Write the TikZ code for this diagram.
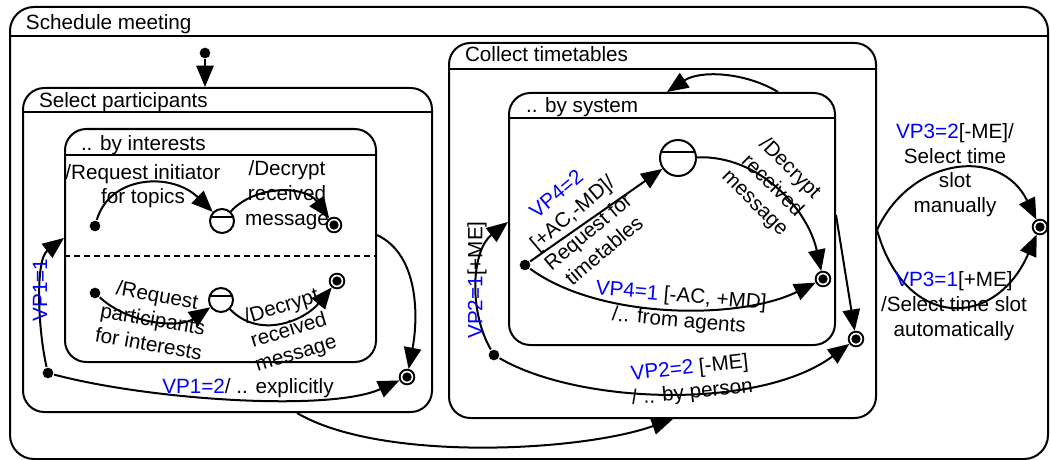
\documentclass[tikz,border=0pt]{standalone}
\usepackage{fontspec}
\setmainfont{Liberation Sans}
\usetikzlibrary{arrows.meta,fit}
\begin{document}
\begin{tikzpicture}[x=0.75pt,y=-0.75pt,
  font=\fontsize{15.5pt}{18.5pt}\selectfont,
  line width=1.5pt,
  box/.style={draw, rounded corners=16pt, inner sep=0pt},
  initst/.style={circle, fill=black, inner sep=0pt, minimum size=8pt},
  finst/.style={circle, draw, fill=white, line width=1.4pt, inner sep=0pt,
    minimum size=11pt,
    path picture={\fill[black] (path picture bounding box.center) circle (3.5pt);}},
  subst/.style={circle, draw, fill=white, inner sep=0pt, minimum size=#1,
    path picture={\draw ([yshift=#1/6]path picture bounding box.west)
      -- ([yshift=#1/6]path picture bounding box.east);}},
  tr/.style={-{Triangle[length=16pt,width=13pt]}},
  lbl/.style={align=center, inner sep=0pt},
  title/.style={anchor=base west, inner sep=0pt}]

\useasboundingbox (0,0) rectangle (1050,460);

% ---- composite states ----
\node[box, rounded corners=18pt, fit={(10,7)(1048,459)}] (sm) {};
\draw (sm.west |- 0,36) -- (sm.east |- 0,36);
\node[title] (smt) at (25,30) {Schedule meeting};

\node[box, fit={(23,88)(432,412)}] (sp) {};
\draw (sp.west |- 0,112) -- (sp.east |- 0,112);
\node[title] (spt) at (38,108) {Select participants};

\node[box, fit={(65,129)(376,362)}] (bi) {};
\draw (bi.west |- 0,155) -- (bi.east |- 0,155);
\draw[dash pattern=on 4.5pt off 3pt] (bi.west |- 0,256) -- (bi.east |- 0,256);
\node[title] (bit) at (80,151) {.. by interests};

\node[box, fit={(449,43)(876,418)}] (ct) {};
\draw (ct.west |- 0,69) -- (ct.east |- 0,69);
\node[title] (ctt) at (464,62) {Collect timetables};

\node[box, fit={(509,93)(835,345)}] (bs) {};
\draw (bs.west |- 0,118) -- (bs.east |- 0,118);
\node[title] (bst) at (525,113) {.. by system};

% ---- simple states ----
\node[initst] (i0) at (205,53) {};

\node[initst] (i1) at (95,226) {};
\node[subst=18pt] (c1) at (222,221) {};
\node[finst] (f1) at (334,225) {};

\node[initst] (i2) at (95,293) {};
\node[subst=18pt] (c2) at (221,300) {};
\node[finst] (f2) at (337,281) {};

\node[initst] (i3) at (48,373) {};
\node[finst] (fsp) at (407,377) {};

\node[initst] (i4) at (525,265) {};
\node[subst=27pt] (c3) at (678,158) {};
\node[finst] (f3) at (823,279) {};

\node[initst] (i5) at (494,355) {};
\node[finst] (fct) at (856,339) {};

\node[finst] (fsm) at (1040,227) {};

% ---- transitions ----
\draw[tr] (i0) -- (i0 |- sp.north);

\draw[tr] (i1) .. controls (110,175) and (172,172) .. (c1);
\draw[tr] (c1) .. controls (255,185) and (305,185) .. (f1);
\draw[tr] (i2) .. controls (130,325) and (180,328) .. (c2);
\draw[tr] (c2) .. controls (260,340) and (305,320) .. (f2);

\draw[tr] (i3) .. controls (38,330) and (35,260) .. (bi.west |- 0,238);
\draw[tr] (i3) .. controls (150,400) and (330,412) .. (fsp);
\draw[tr] (bi.east |- 0,235) .. controls (420,255) and (418,320) .. (fsp);

\draw[tr] (sp.south -| 297,0) .. controls (380,462) and (580,452) .. (ct.south -| 673,0);

\draw[tr] (bs.north -| 778,0) .. controls (745,72) and (700,70) .. (bs.north -| 667,0);
\draw[tr] (i4) -- (c3);
\draw[tr] (c3) .. controls (760,155) and (808,210) .. (f3);
\draw[tr] (i4) .. controls (600,320) and (740,320) .. (f3);
\draw[tr] (bs.east |- 0,215) -- (fct);

\draw[tr] (i5) .. controls (468,310) and (472,250) .. (bs.west |- 0,222);
\draw[tr] (i5) .. controls (580,405) and (760,410) .. (fct);

\draw[tr] (ct.east |- 0,230) .. controls (910,158) and (1000,145) .. (fsm);
\draw[tr] (ct.east |- 0,230) .. controls (905,330) and (995,330) .. (fsm);

% ---- transition labels ----
\node[lbl] (l1) at (143,186) {/Request initiator\\for topics};
\node[lbl] (l2) at (287,195) {/Decrypt\\received\\message};
\node[lbl, rotate=-10] (l3) at (153,319) {/Request\\participants\\for interests};
\node[lbl, rotate=17] (l4) at (289,331) {/Decrypt\\received\\message};
\node[lbl, rotate=90, text=blue] (l5) at (40,290) {VP1=1};
\node[lbl] (l6) at (248,388) {\textcolor{blue}{VP1=2}/ .. explicitly};

\node[lbl, rotate=40] (l7) at (580,222) {\textcolor{blue}{VP4=2}\\{}[+AC,-MD]/\\Request for\\timetables};
\node[lbl, rotate=-45] (l8) at (772,186) {/Decrypt\\received\\message};
\node[lbl, rotate=-5] (l9) at (680,309) {\textcolor{blue}{VP4=1} [-AC, +MD]\\/.. from agents};
\node[lbl, rotate=90] (l10) at (477,280) {\textcolor{blue}{VP2=1}[+ME]};
\node[lbl, rotate=6] (l11) at (691,381) {\textcolor{blue}{VP2=2} [-ME]\\/ .. by person};

\node[lbl] (l12) at (955,170) {\textcolor{blue}{VP3=2}[-ME]/\\Select time\\slot\\manually};
\node[lbl] (l13) at (954,306) {\textcolor{blue}{VP3=1}[+ME]\\/Select time slot\\automatically};
\end{tikzpicture}
\end{document}
